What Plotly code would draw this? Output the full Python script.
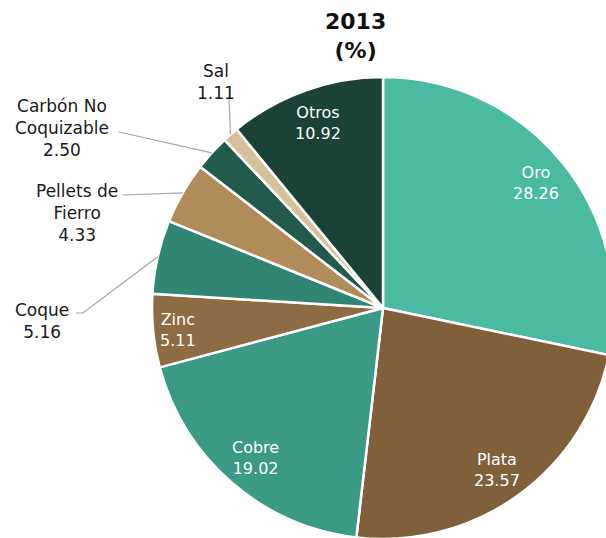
import math
import plotly.graph_objects as go

# ---- data ----
categories = ["Oro", "Plata", "Cobre", "Zinc", "Coque", "Pellets de Fierro",
              "Carbón No Coquizable", "Sal", "Otros"]
values = [28.26, 23.57, 19.02, 5.11, 5.16, 4.33, 2.50, 1.11, 10.92]
label_lines = ["Oro", "Plata", "Cobre", "Zinc", "Coque", "Pellets de<br>Fierro",
               "Carbón No<br>Coquizable", "Sal", "Otros"]
colors = ["#4BBAA3", "#7F603B", "#3A9A85", "#8D6C43", "#308672", "#B08C5B",
          "#225B4C", "#D5C19C", "#1B4237"]
inside = [True, True, True, True, False, False, False, False, True]

# ---- layout geometry (pixels) ----
W, H = 620, 540
CX, CY, R = 383, 308, 231
FONT = "DejaVu Sans"

def px2paper(x, y):
    return x / W, 1 - y / H

fig = go.Figure(go.Pie(
    labels=categories, values=values, sort=False, direction="clockwise",
    rotation=0, marker=dict(colors=colors, line=dict(color="white", width=2.5)),
    textinfo="none", hoverinfo="label+value", showlegend=False,
    domain=dict(x=[(CX - R) / W, (CX + R) / W],
                y=[1 - (CY + R) / H, 1 - (CY - R) / H]),
))

# label text centres (px) and leader-line bend points for outside labels
text_pos = {"Oro": (536, 183), "Plata": (497, 470), "Cobre": (255, 458),
            "Zinc": (178, 330), "Otros": (318, 123),
            "Coque": (42, 321), "Pellets de Fierro": (77, 213),
            "Carbón No Coquizable": (62, 128), "Sal": (216, 82)}
leader_pts = {"Coque": [(83, 313), (76, 313)],
              "Pellets de Fierro": [(123, 195)],
              "Carbón No Coquizable": [(119, 132)],
              "Sal": [(229, 97)]}

total = sum(values)
cum = 0
shapes, annotations = [], []
for c, lab, v, ins in zip(categories, label_lines, values, inside):
    mid = (cum + v / 2) / total * 2 * math.pi
    cum += v
    tx, ty = text_pos[c]
    ax, ay = px2paper(tx, ty)
    annotations.append(dict(
        text=f"{lab}<br>{v:.2f}", x=ax, y=ay, xref="paper", yref="paper",
        showarrow=False, xanchor="center", yanchor="middle", align="center",
        font=dict(family=FONT, size=16 if ins else 17,
                  color="white" if ins else "#1a1a1a")))
    if not ins:
        ex, ey = CX + R * math.sin(mid), CY - R * math.cos(mid)
        d = ""
        for i, (x, y) in enumerate([(ex, ey)] + leader_pts[c]):
            px, py = px2paper(x, y)
            d += ("M" if i == 0 else "L") + f"{px:.5f},{py:.5f} "
        shapes.append(dict(type="path", path=d.strip(), xref="paper", yref="paper",
                           line=dict(color="#A6A6A6", width=1.2)))

tx, ty = px2paper(355, 36)
annotations.append(dict(text="<b>2013</b><br><b>(%)</b>", x=tx, y=ty, xref="paper",
                        yref="paper", showarrow=False, xanchor="center",
                        yanchor="middle", align="center",
                        font=dict(family=FONT, size=22, color="#111111")))

fig.update_layout(width=W, height=H, margin=dict(l=0, r=0, t=0, b=0),
                  paper_bgcolor="white", plot_bgcolor="white",
                  shapes=shapes, annotations=annotations)

fig.write_html("out.html", config={"displayModeBar": False},
               post_script="document.body.style.margin='0';document.body.style.overflow='hidden';document.documentElement.style.overflow='hidden';")
